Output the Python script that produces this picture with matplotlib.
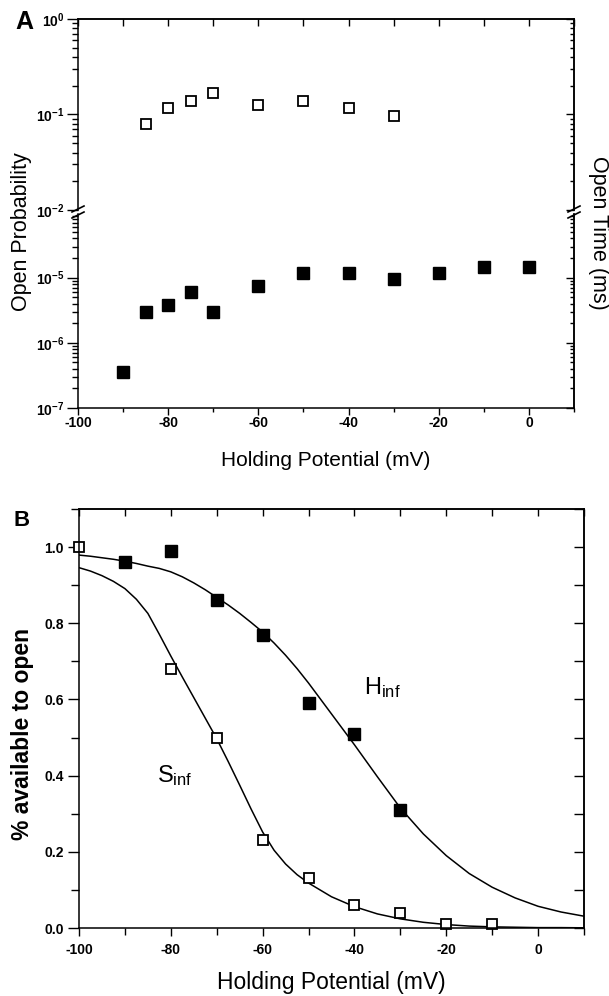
import matplotlib
matplotlib.use("Agg")
import matplotlib.pyplot as plt
from matplotlib.lines import Line2D
from matplotlib.ticker import (LogLocator, MultipleLocator, NullFormatter,
                               NullLocator, FormatStrFormatter)
import numpy as np

plt.rcParams['font.family'] = ['Liberation Sans', 'DejaVu Sans']
plt.rcParams['mathtext.fontset'] = 'custom'
plt.rcParams['mathtext.rm'] = 'Liberation Sans:bold'
plt.rcParams['mathtext.it'] = 'Liberation Sans'
plt.rcParams['mathtext.bf'] = 'Liberation Sans:bold'
plt.rcParams['axes.unicode_minus'] = False

# ---------------- Panel A data ----------------
pot_open_prob = [-85, -80, -75, -70, -60, -50, -40, -30]
open_prob = [0.079, 0.118, 0.139, 0.166, 0.127, 0.14, 0.116, 0.097]

pot_open_time = [-90, -85, -80, -75, -70, -60, -50, -40, -30, -20, -10, 0]
open_time = [3.6e-7, 3.0e-6, 3.8e-6, 6.0e-6, 3.0e-6, 7.4e-6, 1.2e-5, 1.2e-5,
             9.5e-6, 1.2e-5, 1.44e-5, 1.44e-5]

# ---------------- Panel B data ----------------
pot_h = [-90, -80, -70, -60, -50, -40, -30]
h_inf = [0.96, 0.99, 0.86, 0.77, 0.59, 0.51, 0.31]

pot_s = [-100, -80, -70, -60, -50, -40, -30, -20, -10]
s_inf = [1.00, 0.68, 0.50, 0.23, 0.13, 0.06, 0.04, 0.01, 0.01]

# fitted curves
curve_v = [-100, -97.5, -95, -92.5, -90, -87.5, -85, -82.5, -80, -77.5, -75,
           -72.5, -70, -67.5, -65, -62.5, -60, -57.5, -55, -52.5, -50, -45, -40,
           -35, -30, -25, -20, -15, -10, -5, 0, 5, 10]
h_fit = [0.979, 0.976, 0.972, 0.968, 0.963, 0.957, 0.950, 0.944, 0.935, 0.922,
         0.906, 0.888, 0.868, 0.848, 0.826, 0.802, 0.777, 0.748, 0.716, 0.681,
         0.643, 0.562, 0.481, 0.397, 0.315, 0.247, 0.190, 0.143, 0.107, 0.079,
         0.057, 0.042, 0.031]
s_fit = [0.946, 0.937, 0.925, 0.910, 0.891, 0.863, 0.826, 0.771, 0.714, 0.659,
         0.605, 0.551, 0.497, 0.437, 0.375, 0.312, 0.252, 0.204, 0.168, 0.140,
         0.118, 0.082, 0.056, 0.037, 0.024, 0.015, 0.009, 0.005, 0.003, 0.002,
         0.001, 0.001, 0.0005]

W, H = 609, 996
fig = plt.figure(figsize=(W / 100, H / 100), dpi=100)


def rect(x0, y0, x1, y1):
    # pixel box (from top-left) -> figure fraction rect
    return [x0 / W, 1 - y1 / H, (x1 - x0) / W, (y1 - y0) / H]


spine_lw = 1.1


def inner_top(ax, step, length=5):
    sx = ax.secondary_xaxis('top')
    sx.xaxis.set_major_locator(MultipleLocator(step))
    sx.xaxis.set_minor_locator(NullLocator())
    sx.tick_params(which='both', direction='in', length=length, width=1.0,
                   labeltop=False)
    for s in sx.spines.values():
        s.set_linewidth(spine_lw)
    return sx


def inner_right(ax, log, major, minor, lmaj, lmin):
    sy = ax.secondary_yaxis('right')
    if log:
        sy.yaxis.set_major_locator(LogLocator(base=10, numticks=20))
        sy.yaxis.set_minor_locator(LogLocator(base=10, subs=np.arange(2, 10), numticks=20))
    else:
        sy.yaxis.set_major_locator(MultipleLocator(major))
        sy.yaxis.set_minor_locator(MultipleLocator(minor))
    sy.yaxis.set_minor_formatter(NullFormatter())
    sy.tick_params(which='both', direction='in', width=1.0, labelright=False)
    sy.tick_params(which='major', length=lmaj)
    sy.tick_params(which='minor', length=lmin)
    for s in sy.spines.values():
        s.set_linewidth(spine_lw)
    return sy


# ---------- Panel A: broken log axis ----------
ax_up = fig.add_axes(rect(78, 19, 574, 210))
ax_lo = fig.add_axes(rect(78, 214, 574, 408))

for ax in (ax_up, ax_lo):
    ax.set_yscale('log')
    ax.set_xlim(-100, 10)
    for s in ax.spines.values():
        s.set_linewidth(spine_lw)
    ax.xaxis.set_major_locator(MultipleLocator(20))
    ax.xaxis.set_minor_locator(MultipleLocator(10))
    ax.yaxis.set_major_locator(LogLocator(base=10, numticks=20))
    ax.yaxis.set_minor_locator(LogLocator(base=10, subs=np.arange(2, 10), numticks=20))
    ax.yaxis.set_minor_formatter(NullFormatter())
    ax.tick_params(which='both', direction='out', right=False, top=False,
                   width=1.0, labelsize=10)
    ax.tick_params(axis='y', which='major', length=8, pad=2)
    ax.tick_params(axis='y', which='minor', length=4)
    ax.tick_params(axis='x', which='major', length=5, pad=1)
    ax.tick_params(axis='x', which='minor', length=3)

ax_up.set_ylim(1e-2, 1)
ax_lo.set_ylim(1e-7, 9.5e-5)
ax_up.spines['bottom'].set_visible(False)
ax_lo.spines['top'].set_visible(False)
ax_up.tick_params(which='both', bottom=False, labelbottom=False)

inner_top(ax_up, 10, 5)
inner_right(ax_up, True, None, None, 6, 3)
inner_right(ax_lo, True, None, None, 6, 3)

ax_up.plot(pot_open_prob, open_prob, linestyle='none', marker='s', ms=7.5,
           mfc='white', mec='black', mew=1.3)
ax_lo.plot(pot_open_time, open_time, linestyle='none', marker='s', ms=8,
           mfc='black', mec='black')

for lbl in ax_up.get_yticklabels() + ax_lo.get_yticklabels() + ax_lo.get_xticklabels():
    lbl.set_fontweight('bold')

ax_lo.set_xlabel('Holding Potential (mV)', fontsize=15, labelpad=15)
fig.text(22 / W, 1 - 232 / H, 'Open Probability', rotation=90, fontsize=15.5,
         ha='center', va='center')
fig.text(598 / W, 1 - 233 / H, 'Open Time (ms)', rotation=270, fontsize=15.5,
         ha='center', va='center')

# break marks
for xb in (78, 574):
    for yb in (209, 215):
        fig.add_artist(Line2D([(xb - 6) / W, (xb + 6) / W],
                              [1 - (yb + 3) / H, 1 - (yb - 3) / H],
                              transform=fig.transFigure, color='black', lw=1.2))

fig.text(15 / W, 1 - 22 / H, 'A', fontsize=18, fontweight='bold', va='center')

# ---------- Panel B ----------
axb = fig.add_axes(rect(79, 509, 584, 928))
axb.set_xlim(-100, 10)
axb.set_ylim(0, 1.1)
for s in axb.spines.values():
    s.set_linewidth(spine_lw)
axb.xaxis.set_major_locator(MultipleLocator(20))
axb.xaxis.set_minor_locator(MultipleLocator(10))
axb.yaxis.set_major_locator(MultipleLocator(0.2))
axb.yaxis.set_minor_locator(MultipleLocator(0.1))
axb.tick_params(which='both', direction='out', right=False, top=False,
                width=1.0, labelsize=10)
axb.tick_params(axis='y', which='major', length=8, pad=3)
axb.tick_params(axis='y', which='minor', length=6)
axb.tick_params(axis='x', which='major', length=6, pad=5)
axb.tick_params(axis='x', which='minor', length=5)
axb.yaxis.set_major_formatter(FormatStrFormatter('%.1f'))

inner_top(axb, 10, 5)
inner_right(axb, False, 0.1, 0.1, 7, 7)

axb.plot(curve_v, h_fit, color='black', lw=1.1)
axb.plot(curve_v, s_fit, color='black', lw=1.1)
axb.plot(pot_h, h_inf, linestyle='none', marker='s', ms=8.5,
         mfc='black', mec='black', clip_on=False)
axb.plot(pot_s, s_inf, linestyle='none', marker='s', ms=7.5,
         mfc='white', mec='black', mew=1.3, clip_on=False)

for lbl in axb.get_xticklabels() + axb.get_yticklabels():
    lbl.set_fontweight('bold')

axb.set_xlabel('Holding Potential (mV)', fontsize=16.5, labelpad=10)
axb.set_ylabel('% available to open', fontsize=16.5, fontweight='bold')
axb.yaxis.set_label_coords(-45 / 505, (928 - 734) / 419)

axb.text(-38, 0.63, r'H$_{\mathregular{inf}}$', fontsize=17, va='center', ha='left')
axb.text(-83, 0.40, r'S$_{\mathregular{inf}}$', fontsize=17, va='center', ha='left')

fig.text(13 / W, 1 - 521 / H, 'B', fontsize=16, fontweight='bold', va='center')

fig.savefig('out.png', dpi=100)
